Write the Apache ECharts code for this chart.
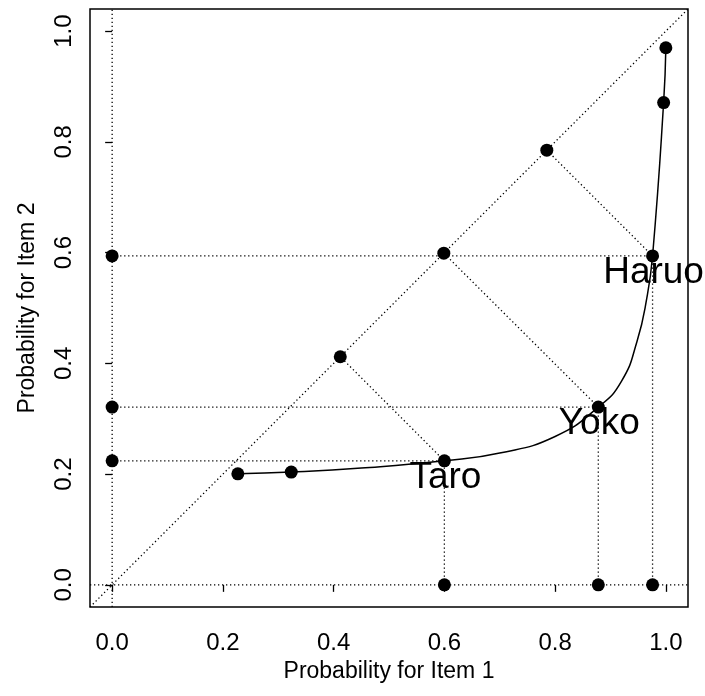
<!DOCTYPE html>
<html>
<head>
<meta charset="utf-8">
<style>
html,body{margin:0;padding:0;background:#fff;}
#chart{width:705px;height:696px;}
</style>
<script src="https://cdn.jsdelivr.net/npm/echarts@6/dist/echarts.min.js"></script>
</head>
<body>
<div id="chart"></div>
<script>
// ---- data ----
const axisMin = -0.04, axisMax = 1.04;
const tickValues = [0.0, 0.2, 0.4, 0.6, 0.8, 1.0];

const persons = ['Taro', 'Yoko', 'Haruo'];
const item1 = [0.600, 0.878, 0.976];          // probability for item 1
const item2 = [0.224, 0.321, 0.594];          // probability for item 2
const diagX = [0.412, 0.599, 0.785];          // points on identity line
const diagY = [0.412, 0.599, 0.785];

// marked points along the curve
const markX = [0.227, 0.3235, 0.600, 0.878, 0.976, 0.996, 1.000];
const markY = [0.2006, 0.2037, 0.224, 0.321, 0.594, 0.871, 0.970];

// curve trace
const curveX = [0.227, 0.3235, 0.450, 0.600, 0.700, 0.800, 0.878, 0.920, 0.948, 0.966, 0.976, 0.996, 1.000];
const curveY = [0.2006, 0.2037, 0.211, 0.224, 0.238, 0.268, 0.321, 0.368, 0.440, 0.520, 0.594, 0.871, 0.970];

// ---- build ----
const dotted = {color: '#000', width: 1.3, type: [1.3, 2.7]};
const series = [];
function seg(a, b) {
  series.push({type: 'line', data: [a, b], symbol: 'none', silent: true,
    lineStyle: dotted, z: 1, animation: false});
}
// identity line and axes through zero
seg([axisMin, axisMin], [axisMax, axisMax]);
seg([0, axisMin], [0, axisMax]);
seg([axisMin, 0], [axisMax, 0]);
for (let i = 0; i < persons.length; i++) {
  seg([0, item2[i]], [item1[i], item2[i]]);
  seg([item1[i], 0], [item1[i], item2[i]]);
  seg([item1[i], item2[i]], [diagX[i], diagY[i]]);
}
// curve
series.push({type: 'line', data: curveX.map((x, i) => [x, curveY[i]]),
  symbol: 'none', smooth: 0.5,
  lineStyle: {color: '#000', width: 1.5}, z: 2, animation: false});
// points
const pts = [];
markX.forEach((x, i) => pts.push([x, markY[i]]));
diagX.forEach((x, i) => pts.push([x, diagY[i]]));
item2.forEach(v => pts.push([0, v]));
item1.forEach(v => pts.push([v, 0]));
series.push({type: 'scatter', data: pts, symbol: 'circle', symbolSize: 13,
  itemStyle: {color: '#000', opacity: 1}, z: 3, animation: false});
// person labels
series.push({type: 'scatter', symbolSize: 0, z: 4, animation: false,
  itemStyle: {opacity: 1},
  data: persons.map((p, i) => ({name: p, value: [item1[i], item2[i]]})),
  label: {show: true, position: 'inside', offset: [1, 17], formatter: '{b}',
    color: '#000', opacity: 1, fontSize: 37, fontFamily: 'Liberation Sans'}});

const axisCommon = {
  type: 'value', min: axisMin, max: axisMax,
  splitLine: {show: false},
  axisLine: {show: false},
  axisTick: {show: true, inside: false, length: 7, customValues: tickValues,
    lineStyle: {color: '#000', width: 1.3}},
  nameLocation: 'middle',
  nameTextStyle: {color: '#000', fontSize: 23, fontFamily: 'Liberation Sans'}
};

const chart = echarts.init(document.getElementById('chart'), null, {renderer: 'canvas'});
chart.setOption({
  animation: false,
  backgroundColor: '#fff',
  grid: {left: 90, top: 9, right: 17, bottom: 89, show: true, borderColor: '#000',
    borderWidth: 1.5, backgroundColor: 'transparent', containLabel: false, outerBoundsMode: 'none'},
  xAxis: Object.assign({}, axisCommon, {
    name: 'Probability for Item 1', nameGap: 52,
    axisLabel: {customValues: tickValues, formatter: v => v.toFixed(1), margin: 24,
      color: '#000', fontSize: 24, fontFamily: 'Liberation Sans'}
  }),
  yAxis: Object.assign({}, axisCommon, {
    name: 'Probability for Item 2', nameGap: 51,
    axisLabel: {customValues: tickValues, formatter: v => v.toFixed(1), margin: 14, rotate: 90,
      color: '#000', fontSize: 24, fontFamily: 'Liberation Sans'}
  }),
  series: series
});
</script>
</body>
</html>
